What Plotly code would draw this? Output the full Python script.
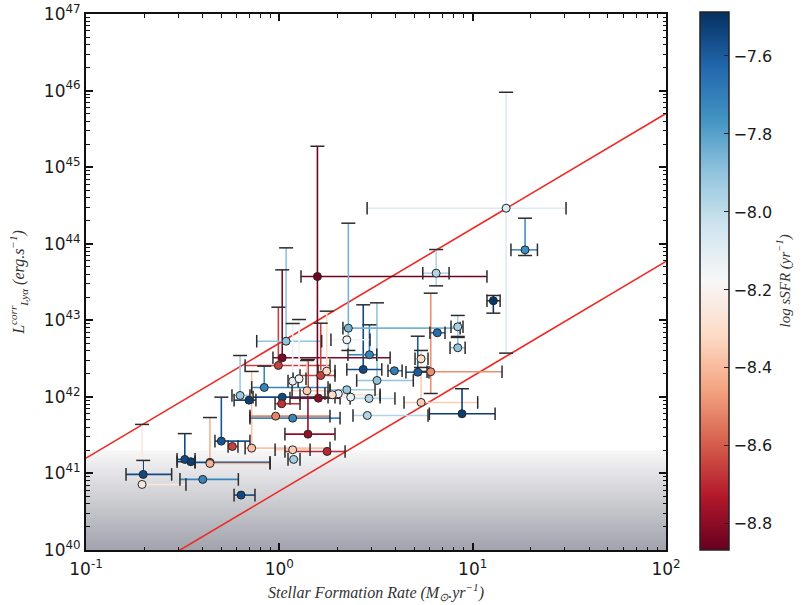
import plotly.graph_objects as go
from plotly.colors import sample_colorscale

# ---------------- data (log10 values) ----------------
log_sfr = [-0.704, -0.710, -0.489, -0.458, -0.359, -0.359, -0.396, -0.198, -0.300, -0.243,
           -0.143, -0.203, -0.157, -0.078, -0.005, 0.015, 0.035, 0.015, 0.012, -0.019,
           0.069, 0.148, 0.069, 0.074, 0.247, 0.069, 0.102, 0.143, 0.214, 0.245,
           0.202, 0.197, 0.305, 0.274, 0.349, 0.369, 0.464, 0.505, 0.434, 0.466,
           0.357, 0.349, 0.595, 0.716, 0.783, 0.733, 0.733, 0.945, 0.455, 0.817,
           0.923, 0.923, 0.811, 1.173, 1.271, 1.107]
log_sfr_lo = [-0.793, None, -0.529, -0.529, -0.436, None, -0.514, -0.234, -0.333, -0.265,
              -0.177, -0.245, -0.234, -0.143, -0.177, -0.033, -0.117, -0.136, -0.022, -0.152,
              -0.152, 0.029, -0.022, 0.045, 0.029, 0.045, 0.071, 0.066, 0.107, 0.200,
              0.055, 0.112, 0.236, 0.107, 0.262, 0.288, 0.366, 0.400, 0.349, 0.355,
              0.329, 0.267, 0.562, 0.655, 0.764, 0.702, 0.645, 0.776, 0.381, 0.779,
              0.888, 0.883, 0.742, 0.454, 1.198, 1.074]
log_sfr_hi = [-0.557, -0.483, -0.436, -0.436, -0.048, -0.048, -0.212, -0.126, -0.152, -0.214,
              0.262, -0.152, -0.121, 0.252, 0.262, 0.573, 0.219, 0.252, 0.107, 0.262,
              0.314, 0.288, 0.159, 0.107, 0.340, 0.097, 0.138, 0.262, 0.288, 0.288,
              0.314, 1.074, 0.366, 0.521, 0.495, 0.521, 0.598, 0.693, 0.530, 0.504,
              0.935, 0.469, 0.635, 0.774, 1.152, 0.769, 1.026, 1.116, 0.769, 0.857,
              0.950, 0.961, 0.878, 1.483, 1.335, 1.142]
log_lum = [40.987, 40.856, 41.183, 41.153, 41.144, 41.130, 40.922, 40.717, 41.422, 41.352,
           41.330, 42.018, 41.957, 42.123, 42.410, 42.510, 42.727, 41.996, 41.910, 41.748,
           41.722, 41.513, 41.309, 41.183, 41.287, 42.205, 42.236, 42.080, 42.279, 42.336,
           41.983, 43.572, 42.040, 42.027, 42.093, 41.996, 41.979, 42.214, 42.358, 42.550,
           42.897, 42.745, 42.341, 42.322, 42.328, 42.497, 41.927, 41.779, 41.757, 42.837,
           42.915, 42.641, 43.615, 44.464, 43.920, 43.255]
log_lum_lo = [None, None, None, None, None, None, None, None, None, None,
              None, None, None, None, None, None, None, None, None, None,
              None, None, None, None, None, None, None, None, None, None,
              None, 41.992, None, None, None, None, None, None, None, None,
              42.606, None, None, None, 42.044, 42.384, None, None, None, None,
              42.789, None, 43.450, 42.571, 43.846, 43.093]
log_lum_hi = [41.17, 41.64, 41.52, None, None, 41.73, None, None, 41.996, None,
              42.332, 42.540, None, 42.401, 43.171, 43.659, 43.946, None, None, None,
              None, 42.488, None, None, None, 42.958, 43.010, 42.475, 42.962, 43.119,
              None, 45.273, None, None, None, None, None, 43.228, 43.202, 42.941,
              44.268, None, None, 42.792, 43.354, 42.606, 42.332, 42.106, None, None,
              43.063, 42.776, 43.924, 45.978, 44.333, 43.324]
log_ssfr = [-7.55, -8.25, -7.55, -7.52, -7.55, -8.42, -7.72, -7.55, -7.58, -8.65,
            -8.38, -7.92, -7.52, -7.72, -8.65, -8.82, -7.90, -7.55, -8.68, -8.52,
            -7.72, -8.78, -8.35, -7.95, -8.70, -8.12, -8.15, -8.35, -8.65, -8.32,
            -8.80, -8.85, -8.12, -8.30, -7.92, -8.12, -7.98, -7.90, -7.55, -7.72,
            -7.85, -8.15, -7.70, -7.60, -8.50, -8.30, -8.35, -7.52, -7.97, -7.65,
            -7.95, -7.90, -7.97, -8.08, -7.75, -7.50]

# reference relations: log L = intercept + slope * log SFR
rel_slope = 1.5
rel_intercepts = [42.70, 40.77]
rel_sfr = [0.1, 100.0]

x_decades = [-1, 0, 1]
y_decades = [40, 41, 42, 43, 44, 45, 46]
minor_mult = [2, 3, 4, 5, 6, 7, 8, 9]
x_ticks = [0.1, 1.0, 10.0, 100.0]
x_ticktext = ["10<sup>-1</sup>", "10<sup>0</sup>", "10<sup>1</sup>", "10<sup>2</sup>"]
y_ticks = [1e40, 1e41, 1e42, 1e43, 1e44, 1e45, 1e46, 1e47]
y_ticktext = ["10<sup>%d</sup>" % e for e in range(40, 48)]
cb_ticks = [-7.6, -7.8, -8.0, -8.2, -8.4, -8.6, -8.8]
c_min, c_max = -8.867, -7.487

# ---------------- styling ----------------
RDBU = [[0.0, "#67001f"], [0.1, "#b2182b"], [0.2, "#d6604d"], [0.3, "#f4a582"],
        [0.4, "#fddbc7"], [0.5, "#f7f7f7"], [0.6, "#d1e5f0"], [0.7, "#92c5de"],
        [0.8, "#4393c3"], [0.9, "#2166ac"], [1.0, "#053061"]]
CAP = "#2b2b2b"
TXT = "#1a1a1a"

norm = [(v - c_min) / (c_max - c_min) for v in log_ssfr]
colors = sample_colorscale(RDBU, norm)
x_minor = [float(m) * 10.0 ** d for d in x_decades for m in minor_mult]
y_minor = [float(m) * 10.0 ** d for d in y_decades for m in minor_mult]

fig = go.Figure()

# grey detection-limit gradient (paper coordinates), overlapping slices
g_top = (41.3 - 40) / 7.0
n_steps = 40
c0 = (246, 246, 247)
c1 = (163, 164, 173)
step = g_top / n_steps
for i in range(n_steps):
    f = i / (n_steps - 1)
    col = tuple(int(round(c0[k] + (c1[k] - c0[k]) * f)) for k in range(3))
    y1 = g_top - i * step
    y0 = 0 if i == n_steps - 1 else y1 - 2.2 * step
    fig.add_shape(type="rect", xref="paper", yref="paper", x0=0, x1=1, y0=y0, y1=y1,
                  fillcolor="rgb(%d,%d,%d)" % col, line=dict(width=0), layer="below")

# red relations
for b in rel_intercepts:
    fig.add_trace(go.Scatter(x=rel_sfr, y=[10.0 ** (b + rel_slope * (-1 if s < 1 else 2)) for s in rel_sfr],
                             mode="lines", line=dict(color="#ee2a24", width=1.6),
                             hoverinfo="skip", showlegend=False))

# coloured error bars
cap_ns_x, cap_ns_y, cap_ew_x, cap_ew_y = [], [], [], []
for i in range(len(log_sfr)):
    x = 10.0 ** log_sfr[i]
    y = 10.0 ** log_lum[i]
    xl = 10.0 ** log_sfr_lo[i] if log_sfr_lo[i] is not None else x
    xh = 10.0 ** log_sfr_hi[i] if log_sfr_hi[i] is not None else x
    yl = 10.0 ** log_lum_lo[i] if log_lum_lo[i] is not None else y
    yh = 10.0 ** log_lum_hi[i] if log_lum_hi[i] is not None else y
    fig.add_trace(go.Scatter(x=[xl, xh, None, x, x], y=[y, y, None, yl, yh], mode="lines",
                             line=dict(color=colors[i], width=1.6),
                             hoverinfo="skip", showlegend=False))
    if log_sfr_lo[i] is not None:
        cap_ns_x.append(xl); cap_ns_y.append(y)
    if log_sfr_hi[i] is not None:
        cap_ns_x.append(xh); cap_ns_y.append(y)
    if log_lum_lo[i] is not None:
        cap_ew_x.append(x); cap_ew_y.append(yl)
    if log_lum_hi[i] is not None:
        cap_ew_x.append(x); cap_ew_y.append(yh)

fig.add_trace(go.Scatter(x=cap_ns_x, y=cap_ns_y, mode="markers",
                         marker=dict(symbol="line-ns", size=9, line=dict(color=CAP, width=1.5)),
                         hoverinfo="skip", showlegend=False))
fig.add_trace(go.Scatter(x=cap_ew_x, y=cap_ew_y, mode="markers",
                         marker=dict(symbol="line-ew", size=10, line=dict(color=CAP, width=1.5)),
                         hoverinfo="skip", showlegend=False))

# points with colour bar
fig.add_trace(go.Scatter(
    x=[10.0 ** v for v in log_sfr], y=[10.0 ** v for v in log_lum], mode="markers",
    marker=dict(size=8, color=log_ssfr, colorscale=RDBU, cmin=c_min, cmax=c_max,
                line=dict(color="#262626", width=1),
                showscale=True,
                colorbar=dict(
                    x=1.041, xanchor="left", y=0.502, yanchor="middle",
                    lenmode="pixels", len=538, thickness=29, ypad=0,
                    outlinecolor="#222", outlinewidth=1.5,
                    tickvals=cb_ticks, tickformat=".1f", ticks="inside", ticklen=5,
                    tickcolor="#222",
                    tickfont=dict(family="DejaVu Sans", size=16, color=TXT),
                    title=dict(text="<i>log sSFR (yr<sup>−1</sup>)</i>", side="right",
                               font=dict(family="Liberation Serif", size=15, color="#333")),
                )),
    showlegend=False))

axis_common = dict(type="log", showgrid=False, zeroline=False, showline=True,
                   linecolor="#111", linewidth=2, mirror="allticks", ticks="inside",
                   ticklen=7, tickwidth=1.5, tickcolor="#111", automargin=False,
                   tickfont=dict(family="DejaVu Sans", size=17, color=TXT))
minor_common = dict(ticks="inside", ticklen=3.5, tickwidth=1, tickcolor="#111", showgrid=False)

fig.update_xaxes(range=[-1, 2], tickvals=x_ticks, ticktext=x_ticktext,
                 ticklabelstandoff=3, minor=dict(tickvals=x_minor, **minor_common),
                 title=dict(text="<i>Stellar Formation Rate (M<sub>⊙</sub>.yr<sup>−1</sup>)</i>",
                            font=dict(family="Liberation Serif", size=16, color="#333"),
                            standoff=8),
                 **axis_common)
fig.update_yaxes(range=[40, 47], tickvals=y_ticks, ticktext=y_ticktext,
                 minor=dict(tickvals=y_minor, **minor_common),
                 title=dict(text="<i>L<sup>corr</sup><sub>Lyα</sub> (erg.s<sup>−1</sup>)</i>",
                            font=dict(family="Liberation Serif", size=16, color="#333"),
                            standoff=15),
                 **axis_common)

fig.update_layout(width=801, height=605,
                  margin=dict(l=86, r=135, t=14, b=55, autoexpand=False),
                  plot_bgcolor="white", paper_bgcolor="white",
                  showlegend=False)

fig.write_html("out.html", config={"displayModeBar": False},
               post_script="document.body.style.margin='0px';document.body.style.overflow='hidden';")
